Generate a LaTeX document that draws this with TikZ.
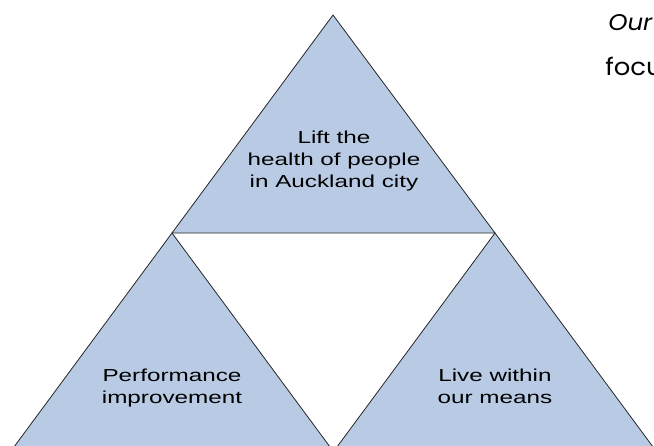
\documentclass[tikz,border=0pt]{standalone}
\usepackage{fontspec}
\newfontfamily\labelfont{Liberation Sans}[FakeStretch=1.4]
\newfontfamily\headfont{Poppins}[FakeStretch=1.08]
\definecolor{goalblue}{RGB}{185,203,228}
\tikzset{goal/.style={draw=black!85,fill=goalblue,line width=0.6pt,line join=miter},
  goaltext/.style={align=center,inner sep=0pt,font=\labelfont\fontsize{13pt}{16.5pt}\selectfont},
  headtext/.style={anchor=base west,inner sep=0pt}}

\begin{document}
\begin{tikzpicture}[x=0.75pt,y=0.75pt,yscale=-1,xscale=1]
\useasboundingbox (0,0) rectangle (654,446);
\clip (0,0) rectangle (654,446);

%Corners
\coordinate (apexT) at (333,15);
\coordinate (apexL) at (172,233);
\coordinate (apexR) at (495,233);

%Shape: Triangle (top)
\draw[goal] (apexT) -- (apexR) -- (apexL) -- cycle;
%Shape: Triangle (bottom left)
\draw[goal] (apexL) -- (333,451) -- (11,451) -- cycle;
%Shape: Triangle (bottom right)
\draw[goal] (apexR) -- (656,451) -- (334,451) -- cycle;

% Text Node
\node[goaltext] (health) at (334,161) {Lift the\\health of people\\ in Auckland city};
% Text Node
\node[goaltext] (perf) at (172,388) {Performance\\improvement};
% Text Node
\node[goaltext] (means) at (495,386) {Live within\\our means};
% Text Node
\node[headtext,font=\headfont\itshape\fontsize{17pt}{20pt}\selectfont] (our) at (608,31) {Our};
% Text Node
\node[headtext,font=\headfont\fontsize{18pt}{22pt}\selectfont] (focus) at (605,75) {focus};

\end{tikzpicture}
\end{document}
